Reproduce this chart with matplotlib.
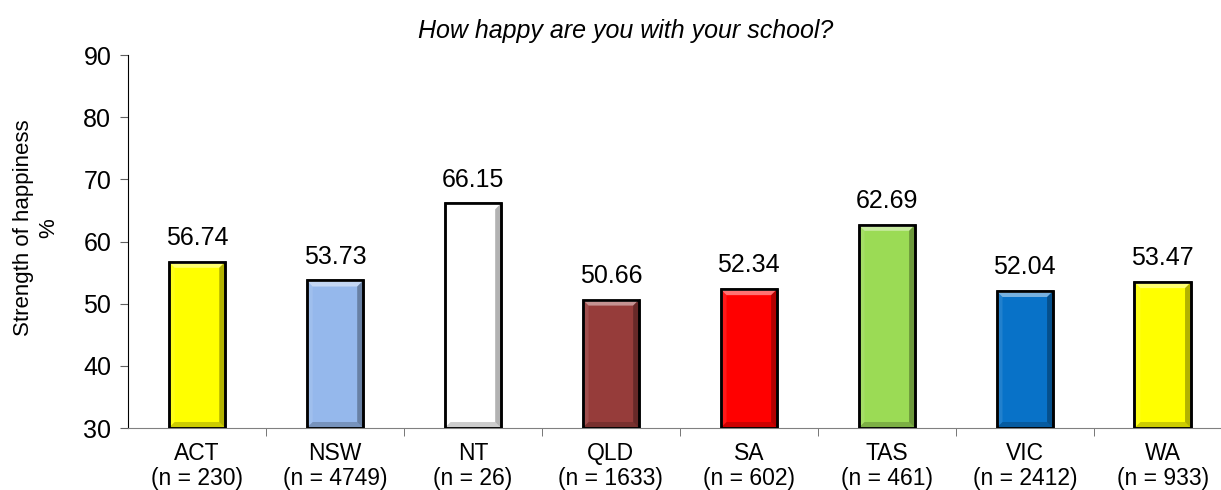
import numpy as np
import matplotlib.pyplot as plt
from matplotlib.patches import Polygon

# data
states = ['ACT', 'NSW', 'NT', 'QLD', 'SA', 'TAS', 'VIC', 'WA']
sizes = [230, 4749, 26, 1633, 602, 461, 2412, 933]
scores = [56.74, 53.73, 66.15, 50.66, 52.34, 62.69, 52.04, 53.47]
colours = ['#FFFF00', '#95B8EC', '#FFFFFF', '#963C3A', '#FF0000', '#9BDB55', '#0872C8', '#FFFF00']

plt.rcParams['font.family'] = ['Liberation Sans', 'DejaVu Sans']

fig = plt.figure(figsize=(12.21, 4.90), dpi=100)
ax = fig.add_axes([0.1048, 0.1265, 0.904, 0.7612])

x = np.arange(len(states))
ymin = 30
bars = ax.bar(x, np.array(scores) - ymin, bottom=ymin, width=0.41, color=colours,
              edgecolor='black', linewidth=1.8, zorder=2)

ax.set_xlim(-0.5, len(states) - 0.5)
ax.set_ylim(30, 90)
ax.set_yticks(range(30, 91, 10))

# bevel effect, width given in pixels and turned into data units
bb = ax.get_window_extent()
bx = 6 * (len(states)) / bb.width
by = 6 * 60 / bb.height
for b in bars:
    x0, y0 = b.get_x(), b.get_y()
    x1, y1 = x0 + b.get_width(), y0 + b.get_height()
    sides = [
        ([(x0, y1), (x1, y1), (x1 - bx, y1 - by), (x0 + bx, y1 - by)], 'white', 0.45),
        ([(x0, y0), (x0, y1), (x0 + bx, y1 - by), (x0 + bx, y0 + by)], 'white', 0.1),
        ([(x1, y0), (x1, y1), (x1 - bx, y1 - by), (x1 - bx, y0 + by)], 'black', 0.3),
        ([(x0, y0), (x1, y0), (x1 - bx, y0 + by), (x0 + bx, y0 + by)], 'black', 0.2),
    ]
    for pts, c, a in sides:
        ax.add_patch(Polygon(pts, closed=True, facecolor=c, alpha=a, edgecolor='none', zorder=2.5))
    ax.add_patch(Polygon([(x0, y0), (x0, y1), (x1, y1), (x1, y0)], closed=True,
                         facecolor='none', edgecolor='black', linewidth=1.8, zorder=3))

for xi, v in zip(x, scores):
    ax.annotate(f'{v:.2f}', (xi, v), xytext=(0, 12), textcoords='offset points',
                ha='center', va='baseline', fontsize=18)

ax.set_xticks(x)
ax.set_xticklabels([f'{s}\n(n = {n})' for s, n in zip(states, sizes)], fontsize=16.5,
                   linespacing=1.12)
ax.set_xticks(np.arange(0.5, len(states) - 0.5, 1), minor=True)
ax.tick_params(axis='x', which='major', length=0, pad=10)
ax.tick_params(axis='x', which='minor', length=6, color='#606060')
ax.tick_params(axis='y', labelsize=18, length=6, color='#606060', pad=6)

for side in ['top', 'right']:
    ax.spines[side].set_visible(False)
ax.spines['left'].set_color('black')
ax.spines['bottom'].set_color('#808080')

ax.set_ylabel('Strength of happiness\n%', fontsize=16, linespacing=1.3)
ax.yaxis.set_label_coords(-0.062, 0.537)
fig.text(0.5127, 0.937, 'How happy are you with your school?', fontsize=18, style='italic',
         ha='center', va='center')

fig.savefig('out.png', dpi=100)
